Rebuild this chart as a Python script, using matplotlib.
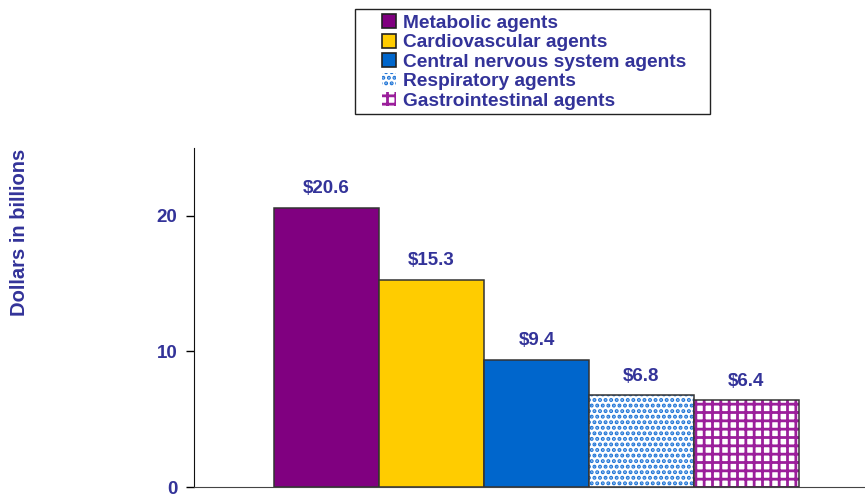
import matplotlib
matplotlib.use("Agg")
import matplotlib.pyplot as plt
from matplotlib.patches import Patch, Rectangle

categories = ["Metabolic agents", "Cardiovascular agents", "Central nervous system agents",
              "Respiratory agents", "Gastrointestinal agents"]
values = [20.6, 15.3, 9.4, 6.8, 6.4]
labels = ["$20.6", "$15.3", "$9.4", "$6.8", "$6.4"]

TXT = "#333399"
plt.rcParams["font.family"] = ["Liberation Sans", "DejaVu Sans"]
plt.rcParams["font.weight"] = "bold"
plt.rcParams["hatch.linewidth"] = 2.0

fig = plt.figure(figsize=(8.65, 4.94), dpi=100)
ax = fig.add_axes([194 / 865, 7 / 494, 1 - 194 / 865, (487 - 148) / 494])

# fill, hatch, hatch colour
styles = [("#800080", None, None),
          ("#FFCC00", None, None),
          ("#0066CC", None, None),
          ("white", "...", "#1E74D6"),
          ("white", "++", "#9B1F9B")]

x = list(range(len(values)))
handles = []
for i, v in enumerate(values):
    face, hatch, hcol = styles[i]
    if hatch:
        ax.bar(x[i], v, width=1.0, color=face, edgecolor=hcol, hatch=hatch, linewidth=0)
        ax.bar(x[i], v, width=1.0, color="none", edgecolor="#333333", linewidth=1.1)
        handles.append(Patch(facecolor=face, edgecolor=hcol, hatch=hatch, linewidth=0))
    else:
        ax.bar(x[i], v, width=1.0, color=face, edgecolor="#333333", linewidth=1.1)
        handles.append(Patch(facecolor=face, edgecolor="#222222", linewidth=1.2))
    ax.text(x[i], v + 0.75, labels[i], ha="center", va="bottom", fontsize=13.5,
            color=TXT, fontweight="bold")

ax.set_xlim(-1.262, 5.129)
ax.set_ylim(0, 25)
ax.set_yticks([0, 10, 20])
ax.set_xticks([])
ax.tick_params(axis="y", direction="out", length=6, width=1, labelsize=13.5,
               labelcolor=TXT, pad=6)
for lab in ax.get_yticklabels():
    lab.set_fontweight("bold")
ax.spines["top"].set_visible(False)
ax.spines["right"].set_visible(False)
ax.spines["left"].set_color("#111111")
ax.spines["bottom"].set_color("#444444")

fig.text(20 / 865, 1 - 232 / 494, "Dollars in billions", rotation=90, ha="center",
         va="center", fontsize=14.5, color=TXT, fontweight="bold")

# legend box drawn separately so the wide left margin matches
fig.patches.append(Rectangle((355 / 865, 1 - 114 / 494), 355 / 865, 105 / 494,
                             transform=fig.transFigure, facecolor="white",
                             edgecolor="#222222", linewidth=1.0, zorder=0))
leg = fig.legend(handles, categories, loc="upper left",
                 bbox_to_anchor=(380 / 865, 1 - 12 / 494), frameon=False,
                 fontsize=13.8, handlelength=0.75, handleheight=0.75, handletextpad=0.35,
                 labelspacing=0.1, borderpad=0.1, borderaxespad=0)
for t in leg.get_texts():
    t.set_color(TXT)
    t.set_fontweight("bold")

fig.savefig("out.png", dpi=100)
